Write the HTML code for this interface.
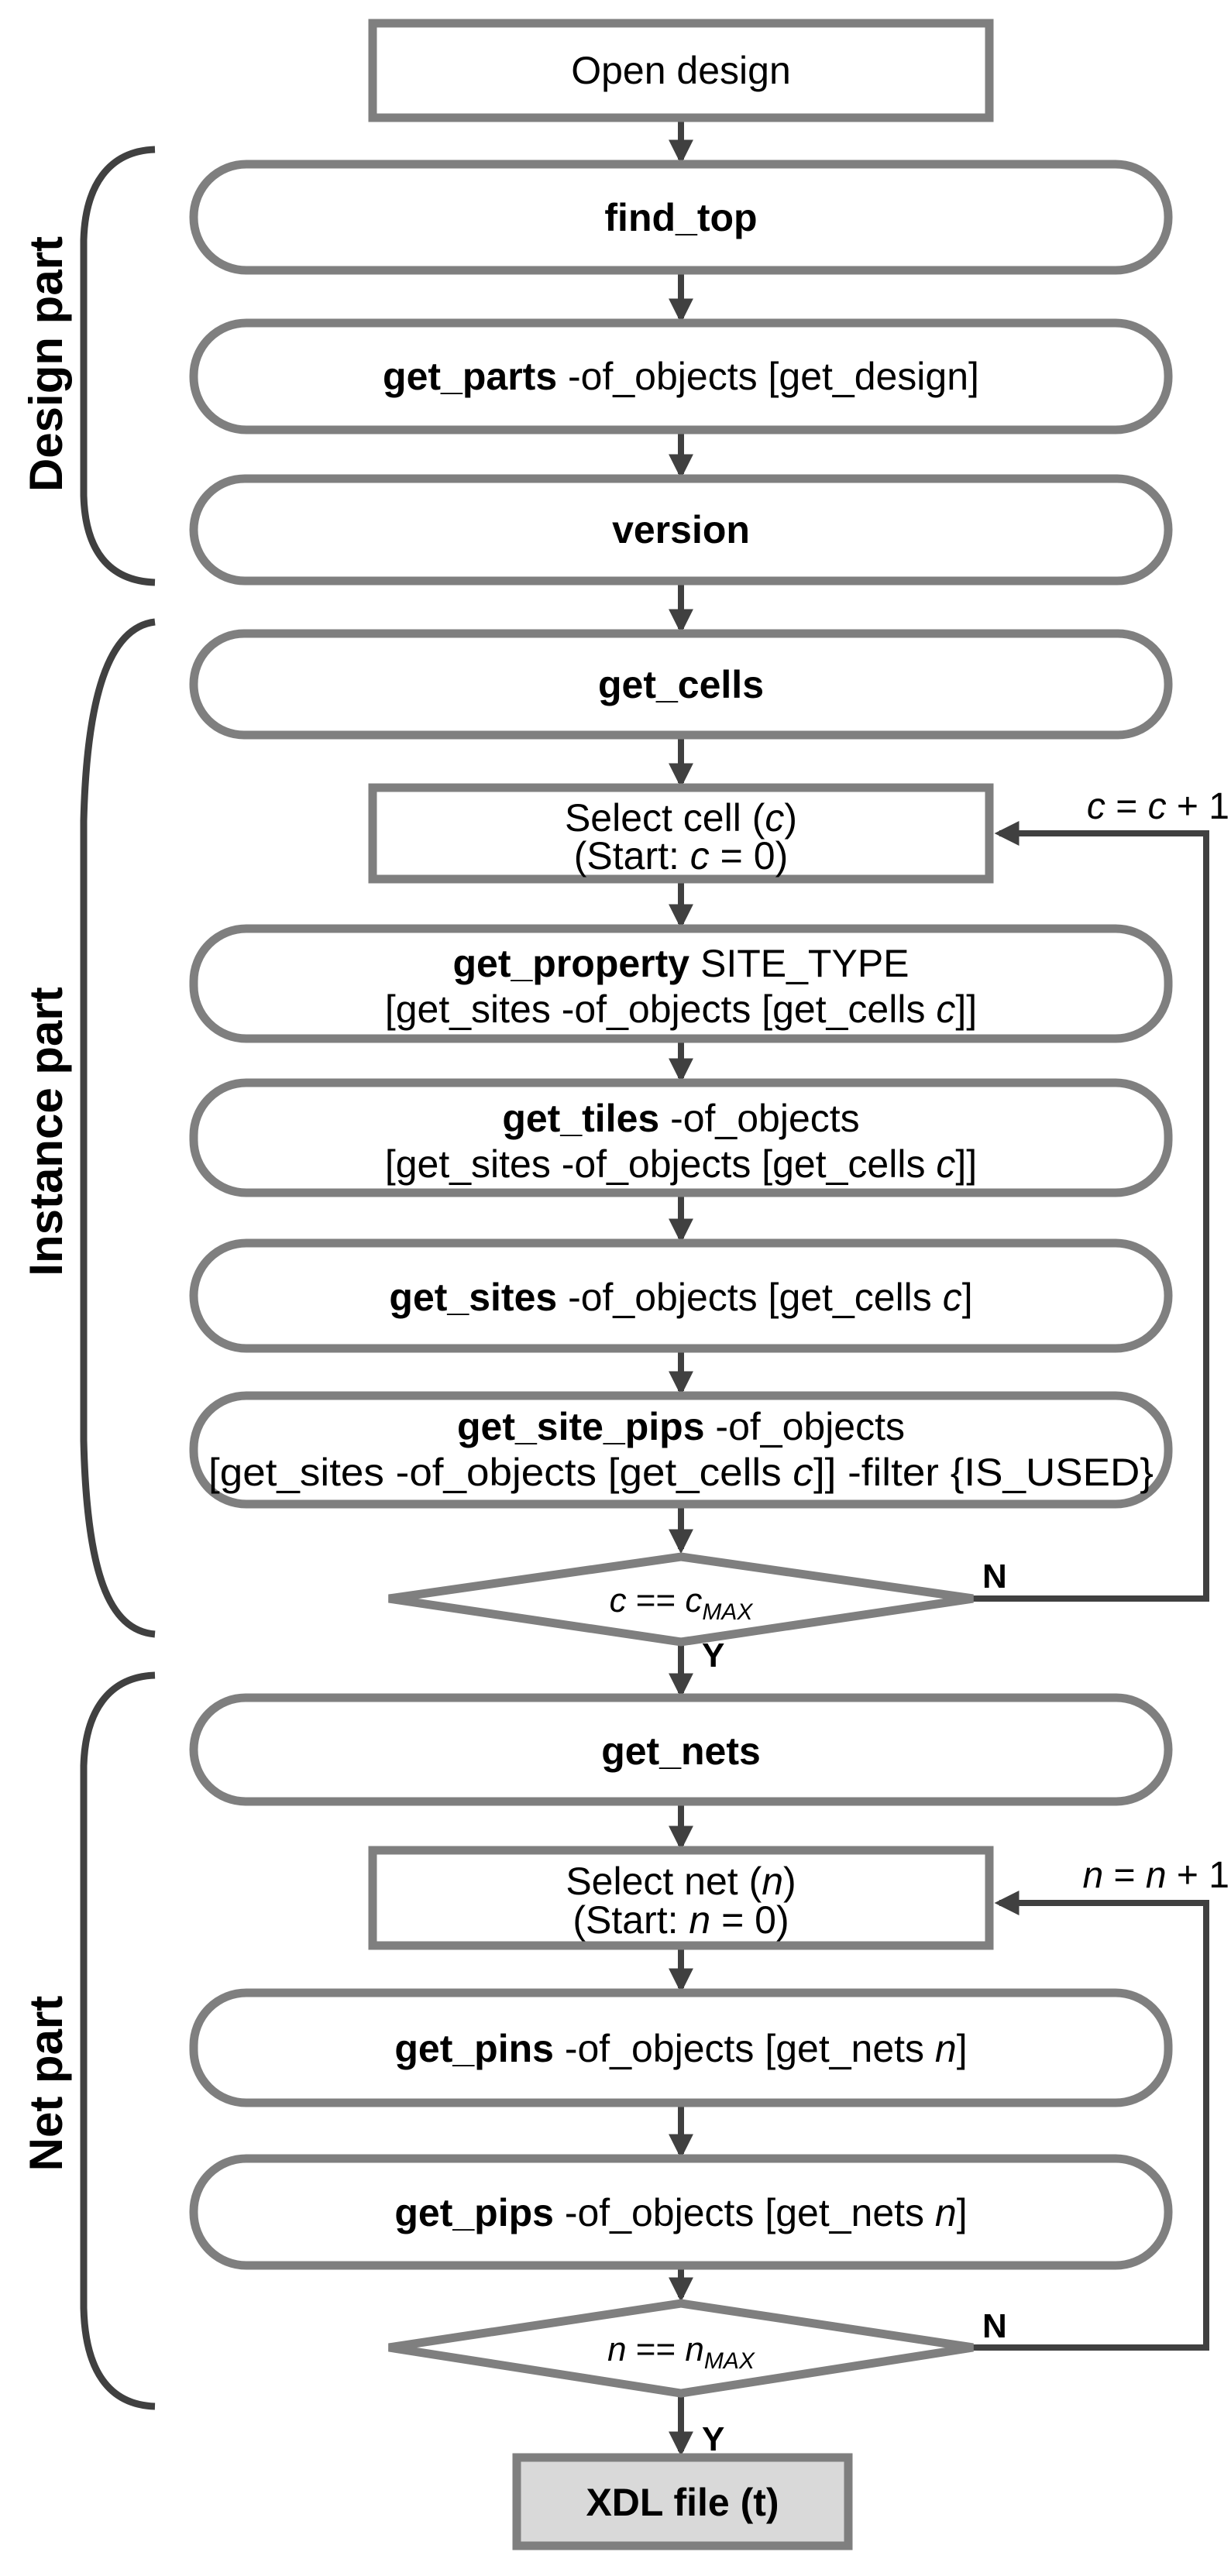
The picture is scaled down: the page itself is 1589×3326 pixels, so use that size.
<!DOCTYPE html>
<html><head><meta charset="utf-8"><style>
html,body{margin:0;padding:0;background:#fff;}
svg{display:block;}
text{font-family:"Liberation Sans",sans-serif;fill:#000;}
</style></head><body>
<svg width="1589" height="3326" viewBox="0 0 1589 3326" xmlns="http://www.w3.org/2000/svg">
<defs>
<marker id="ah" markerWidth="4" markerHeight="4" refX="3.2" refY="2" orient="auto" markerUnits="strokeWidth">
<path d="M0,0 L4,2 L0,4 z" fill="#404040"/>
</marker>
</defs>
<g fill="none" stroke="#404040" stroke-width="8">
<line x1="879" y1="152" x2="879" y2="206" marker-end="url(#ah)"/>
<line x1="879" y1="349" x2="879" y2="411" marker-end="url(#ah)"/>
<line x1="879" y1="555" x2="879" y2="612" marker-end="url(#ah)"/>
<line x1="879" y1="750" x2="879" y2="812" marker-end="url(#ah)"/>
<line x1="879" y1="949" x2="879" y2="1011" marker-end="url(#ah)"/>
<line x1="879" y1="1135" x2="879" y2="1193" marker-end="url(#ah)"/>
<line x1="879" y1="1341" x2="879" y2="1392" marker-end="url(#ah)"/>
<line x1="879" y1="1540" x2="879" y2="1599" marker-end="url(#ah)"/>
<line x1="879" y1="1741" x2="879" y2="1796" marker-end="url(#ah)"/>
<line x1="879" y1="1942" x2="879" y2="2000" marker-end="url(#ah)"/>
<line x1="879" y1="2123" x2="879" y2="2186" marker-end="url(#ah)"/>
<line x1="879" y1="2326" x2="879" y2="2383" marker-end="url(#ah)"/>
<line x1="879" y1="2512" x2="879" y2="2567" marker-end="url(#ah)"/>
<line x1="879" y1="2715" x2="879" y2="2781" marker-end="url(#ah)"/>
<line x1="879" y1="2925" x2="879" y2="2966" marker-end="url(#ah)"/>
<line x1="879" y1="3095" x2="879" y2="3165" marker-end="url(#ah)"/>
<polyline points="1256,2064 1557,2064 1557,1076 1290,1076" marker-end="url(#ah)"/>
<polyline points="1256,3031 1557,3031 1557,2457 1290,2457" marker-end="url(#ah)"/>
</g>
<g fill="#fff" stroke="#7f7f7f" stroke-width="11">
<rect x="481" y="30" width="796" height="122"/>
<rect x="250" y="212" width="1258" height="137" rx="68"/>
<rect x="250" y="417" width="1258" height="138" rx="68"/>
<rect x="250" y="618" width="1258" height="132" rx="66"/>
<rect x="250" y="818" width="1258" height="131" rx="65"/>
<rect x="481" y="1017" width="796" height="118"/>
<rect x="250" y="1199" width="1258" height="142" rx="68"/>
<rect x="250" y="1398" width="1258" height="142" rx="68"/>
<rect x="250" y="1605" width="1258" height="136" rx="68"/>
<rect x="250" y="1802" width="1258" height="140" rx="68"/>
<polygon points="879,2010 1256,2064 879,2120 502,2064"/>
<rect x="250" y="2192" width="1258" height="134" rx="67"/>
<rect x="481" y="2389" width="796" height="123"/>
<rect x="250" y="2573" width="1258" height="142" rx="68"/>
<rect x="250" y="2787" width="1258" height="138" rx="68"/>
<polygon points="879,2974 1256,3031 879,3090 502,3031"/>
<rect x="667" y="3173" width="428" height="114" fill="#d9d9d9"/>
</g>
<g fill="none" stroke="#404040" stroke-width="9">
<path d="M200,193 C140,195 110,240 108,310 L108,640 C110,710 140,750 200,752"/>
<path d="M200,803 C140,810 112,900 108,1060 L108,1860 C112,2030 140,2105 200,2110"/>
<path d="M200,2163 C140,2165 110,2210 108,2280 L108,2980 C110,3060 140,3105 200,3107"/>
</g>
<g font-size="50" text-anchor="middle">
<text x="879" y="108">Open design</text>
<text x="879" y="298" font-weight="bold">find_top</text>
<text x="879" y="503"><tspan font-weight="bold">get_parts</tspan> -of_objects [get_design]</text>
<text x="879" y="701" font-weight="bold">version</text>
<text x="879" y="901" font-weight="bold">get_cells</text>
<text x="879" y="1073">Select cell (<tspan font-style="italic">c</tspan>)</text>
<text x="879" y="1122">(Start: <tspan font-style="italic">c</tspan> = 0)</text>
<text x="879" y="1261"><tspan font-weight="bold">get_property</tspan> SITE_TYPE</text>
<text x="879" y="1320">[get_sites -of_objects [get_cells <tspan font-style="italic">c</tspan>]]</text>
<text x="879" y="1461"><tspan font-weight="bold">get_tiles</tspan> -of_objects</text>
<text x="879" y="1520">[get_sites -of_objects [get_cells <tspan font-style="italic">c</tspan>]]</text>
<text x="879" y="1692"><tspan font-weight="bold">get_sites</tspan> -of_objects [get_cells <tspan font-style="italic">c</tspan>]</text>
<text x="879" y="1859"><tspan font-weight="bold">get_site_pips</tspan> -of_objects</text>
<text x="879" y="1918" textLength="1220" lengthAdjust="spacingAndGlyphs">[get_sites -of_objects [get_cells <tspan font-style="italic">c</tspan>]] -filter {IS_USED}</text>
<text x="879" y="2081" font-size="44"><tspan font-style="italic">c</tspan> == <tspan font-style="italic">c</tspan><tspan font-style="italic" font-size="30" dy="10">MAX</tspan></text>
<text x="879" y="2278" font-weight="bold">get_nets</text>
<text x="879" y="2446">Select net (<tspan font-style="italic">n</tspan>)</text>
<text x="879" y="2496">(Start: <tspan font-style="italic">n</tspan> = 0)</text>
<text x="879" y="2662"><tspan font-weight="bold">get_pins</tspan> -of_objects [get_nets  <tspan font-style="italic">n</tspan>]</text>
<text x="879" y="2874"><tspan font-weight="bold">get_pips</tspan> -of_objects [get_nets  <tspan font-style="italic">n</tspan>]</text>
<text x="879" y="3048" font-size="44"><tspan font-style="italic">n</tspan> == <tspan font-style="italic">n</tspan><tspan font-style="italic" font-size="30" dy="10">MAX</tspan></text>
<text x="881" y="3248" font-weight="bold">XDL file (t)</text>
</g>
<g font-size="48" text-anchor="end">
<text x="1587" y="1057"><tspan font-style="italic">c</tspan> = <tspan font-style="italic">c</tspan> + 1</text>
<text x="1587" y="2437"><tspan font-style="italic">n</tspan> = <tspan font-style="italic">n</tspan> + 1</text>
</g>
<g font-size="44" font-weight="bold">
<text x="1268" y="2050">N</text>
<text x="906" y="2152">Y</text>
<text x="1268" y="3018">N</text>
<text x="906" y="3164">Y</text>
</g>
<g font-size="60" font-weight="bold" text-anchor="middle">
<text transform="translate(80,470) rotate(-90)">Design part</text>
<text transform="translate(80,1461) rotate(-90)">Instance part</text>
<text transform="translate(80,2690) rotate(-90)">Net part</text>
</g>
</svg>
</body></html>
